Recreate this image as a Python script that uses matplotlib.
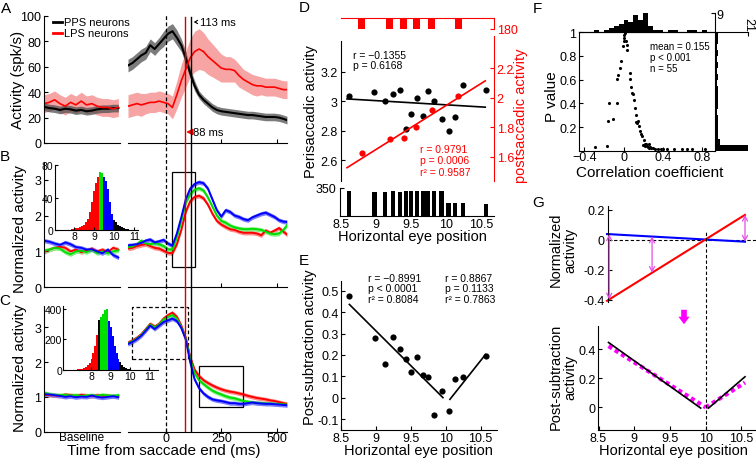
import matplotlib
matplotlib.use('Agg')
import matplotlib.pyplot as plt
import numpy as np
from matplotlib.patches import Rectangle, FancyArrowPatch

plt.rcParams['font.family'] = ['Liberation Sans', 'DejaVu Sans']
plt.rcParams['xtick.direction'] = 'in'
plt.rcParams['ytick.direction'] = 'in'
plt.rcParams['axes.linewidth'] = 0.8
plt.rcParams['xtick.major.size'] = 3
plt.rcParams['ytick.major.size'] = 3
plt.rcParams['xtick.major.width'] = 0.8
plt.rcParams['ytick.major.width'] = 0.8
plt.rcParams['xtick.major.pad'] = 1.5
plt.rcParams['ytick.major.pad'] = 2
plt.rcParams['xtick.labelsize'] = 9
plt.rcParams['ytick.labelsize'] = 9

# ---------------- DATA ----------------
t_main = [-170, -150, -130, -110, -90, -70, -50, -30, -10, 10, 30, 50, 70, 90, 110, 130,
          150, 170, 190, 210, 230, 250, 270, 290, 310, 330, 350, 370, 390, 410, 430, 450,
          470, 490, 510, 530, 546]
# Panel A (spk/s)
a_pps = [61, 63, 66, 69, 71, 77, 74, 78, 82, 86, 88, 83, 77, 67, 55, 45, 38, 34, 31, 28, 26,
         25, 24.5, 24, 23.5, 23, 22.5, 22, 22, 21.5, 21, 20.5, 20.5, 20.5, 20, 19, 18]
a_pps_err = [5, 5, 5, 5, 5, 5, 5, 5, 6, 6, 6, 6, 5, 5, 4, 4, 3, 3, 3, 3, 3, 3, 3, 3, 3, 3, 3,
             3, 3, 3, 3, 3, 3, 3, 3, 3, 3]
a_lps = [29, 30, 31, 30, 31, 32, 32, 33, 32, 31, 28, 38, 49, 58, 67, 72, 74, 72, 68, 65, 62,
         59, 58, 58, 57, 53, 50, 48, 46, 45, 45, 44, 44, 44, 43, 42, 42]
a_lps_err = [9, 9, 9, 9, 8, 8, 8, 8, 8, 8, 9, 11, 13, 14, 15, 16, 16, 15, 14, 13, 12, 11, 10,
             10, 9, 9, 8, 8, 8, 8, 7, 7, 7, 7, 7, 7, 7]
base_idx = [0, 1, 2, 3, 4, 5, 6, 7, 8, 9, 10, 11, 12, 13, 14]
a_base_pps = [28.5, 27.5, 27, 26, 27, 26.5, 25.5, 26, 25, 25.5, 26.5, 27, 27, 27.5, 27.5]
a_base_lps = [31, 32, 34, 31, 29, 32, 30, 33, 30, 31, 29, 28, 28, 27, 28]

# Panel B (normalized)
b_blue = [1.17, 1.18, 1.2, 1.24, 1.3, 1.33, 1.25, 1.28, 1.32, 1.22, 1.16, 1.5, 1.95, 2.45,
          2.75, 2.88, 2.93, 2.9, 2.75, 2.45, 2.15, 1.97, 2.15, 2.1, 2.0, 1.96, 1.9, 1.87,
          1.95, 2.0, 2.05, 2.08, 2.02, 1.96, 1.87, 1.83, 1.82]
b_green = [1.12, 1.14, 1.2, 1.3, 1.22, 1.2, 1.23, 1.2, 1.15, 1.06, 1.05, 1.4, 1.85, 2.35,
           2.6, 2.72, 2.76, 2.7, 2.5, 2.25, 2.0, 1.85, 1.8, 1.72, 1.67, 1.64, 1.62, 1.62,
           1.63, 1.62, 1.6, 1.55, 1.5, 1.48, 1.5, 1.6, 1.73]
b_red = [1.08, 1.1, 1.15, 1.18, 1.2, 1.15, 1.1, 1.08, 1.02, 0.96, 0.95, 1.2, 1.6, 2.1, 2.4,
         2.52, 2.55, 2.48, 2.3, 2.05, 1.85, 1.75, 1.68, 1.62, 1.6, 1.55, 1.52, 1.52, 1.52,
         1.5, 1.45, 1.58, 1.52, 1.58, 1.65, 1.55, 1.47]
b_base_blue = [1.3, 1.27, 1.22, 1.18, 1.25, 1.2, 1.12, 1.1, 1.05, 1.06, 1.0, 0.95, 1.05, 0.9, 0.83]
b_base_green = [1.02, 1.05, 1.1, 1.08, 0.98, 0.92, 1.0, 1.02, 0.98, 1.05, 0.95, 1.0, 0.95, 1.0, 1.03]
b_base_red = [0.98, 1.05, 1.1, 1.13, 1.1, 1.0, 1.05, 0.98, 1.02, 1.08, 1.0, 1.05, 0.98, 1.1, 1.05]
b_hist_red_x = [7.9, 8.0, 8.1, 8.2, 8.3, 8.4, 8.5, 8.6, 8.7, 8.8, 8.9, 9.0, 9.1, 9.2]
b_hist_red = [1, 1, 2, 2, 3, 4, 6, 9, 13, 22, 35, 48, 58, 65]
b_hist_green_x = [9.3, 9.4]
b_hist_green = [72, 70]
b_hist_blue_x = [9.5, 9.6, 9.7, 9.8, 9.9]
b_hist_blue = [66, 60, 50, 35, 20]
b_hist_black_x = [10.0, 10.1, 10.2, 10.3, 10.4, 10.5, 10.6, 10.7]
b_hist_black = [12, 9, 6, 4, 3, 2, 1, 1]

# Panel C (normalized)
c_red = [2.56, 2.62, 2.7, 2.8, 2.95, 3.1, 3.02, 3.1, 3.25, 3.35, 3.42, 3.3, 3.05, 2.7, 2.15,
         1.78, 1.6, 1.48, 1.4, 1.33, 1.27, 1.22, 1.18, 1.15, 1.13, 1.1, 1.07, 1.03, 1.0, 0.97,
         0.95, 0.93, 0.9, 0.88, 0.85, 0.82, 0.8]
c_green = [2.54, 2.6, 2.68, 2.78, 2.93, 3.08, 3.0, 3.08, 3.22, 3.3, 3.35, 3.25, 3.0, 2.68,
           2.1, 1.68, 1.48, 1.37, 1.27, 1.18, 1.12, 1.07, 1.02, 0.98, 0.96, 0.92, 0.88, 0.86,
           0.84, 0.83, 0.82, 0.81, 0.81, 0.8, 0.8, 0.79, 0.78]
c_blue = [2.52, 2.58, 2.66, 2.76, 2.9, 3.05, 2.95, 3.05, 3.15, 3.2, 3.25, 3.18, 2.98, 2.65,
          2.0, 1.5, 1.25, 1.1, 1.0, 0.93, 0.9, 0.88, 0.85, 0.82, 0.82, 0.8, 0.8, 0.82, 0.84,
          0.82, 0.81, 0.8, 0.8, 0.79, 0.78, 0.77, 0.76]
c_base_red = [1.06, 1.05, 1.04, 1.03, 1.07, 1.05, 1.03, 1.06, 1.04, 1.02, 1.05, 1.03, 1.04, 1.02, 1.03]
c_base_green = [1.12, 1.08, 1.06, 1.05, 1.06, 1.04, 1.05, 1.03, 1.04, 1.05, 1.03, 1.06, 1.04, 1.03, 1.05]
c_base_blue = [1.08, 1.07, 1.05, 1.03, 1.0, 1.02, 0.99, 1.01, 1.0, 1.04, 1.0, 0.98, 1.0, 1.02, 0.99]
c_hist_red_x = [7.3, 7.4, 7.5, 7.6, 7.7, 7.8, 7.9, 8.0, 8.1, 8.2, 8.3]
c_hist_red = [4, 6, 9, 13, 20, 30, 48, 75, 110, 160, 230]
c_hist_black1_x = [8.4]
c_hist_black1 = [330]
c_hist_green_x = [8.5, 8.6, 8.7, 8.8]
c_hist_green = [345, 365, 390, 398]
c_hist_blue_x = [8.9, 9.0, 9.1, 9.2, 9.3, 9.4]
c_hist_blue = [320, 280, 225, 160, 110, 75]
c_hist_black_x = [9.5, 9.6, 9.7, 9.8, 9.9, 10.0, 10.1, 10.2]
c_hist_black = [50, 35, 22, 14, 8, 5, 3, 2]

# Panel D
d_eye = [8.62, 8.98, 9.13, 9.24, 9.34, 9.43, 9.50, 9.59, 9.67, 9.74, 9.83, 9.94, 10.04,
         10.13, 10.25, 10.57]
d_peri = [3.037, 3.064, 3.003, 3.049, 3.076, 2.811, 2.913, 3.022, 2.898, 3.071, 3.003,
          2.879, 2.80, 2.895, 3.112, 3.076]
d_trials = [310, 305, 305, 308, 305, 310, 310, 312, 310, 312, 312, 308, 160, 160, 158, 150]
d_eye_post = [8.80, 9.20, 9.40, 9.58, 9.80, 10.18]
d_post = [1.622, 1.717, 1.729, 1.803, 1.914, 2.011]
d_trials_post = [178, 180, 180, 180, 180, 180]
d_fit_x = [8.59, 10.565]
d_fit_peri = [3.015, 2.959]
d_fit_post = [1.525, 2.113]

# Panel E
e_post_sub = [0.475, 0.277, 0.156, 0.285, 0.226, 0.179, 0.121, 0.191, 0.107, 0.096, -0.081,
              0.031, -0.063, 0.086, 0.096, 0.193]
e_fit_left_x = [8.62, 9.96]
e_fit_left = [0.436, 0.0]
e_fit_right_x = [10.06, 10.57]
e_fit_right = [-0.008, 0.202]

# Panel F
f_r = [-0.29, -0.165, -0.16, -0.15, -0.105, -0.07, -0.065, -0.057, -0.032, -0.022, -0.006,
       0.0, 0.015, 0.025, 0.032, 0.038, 0.063, 0.07, 0.073, 0.089, 0.095, 0.111, 0.121,
       0.127, 0.136, 0.149, 0.159, 0.165, 0.175, 0.184, 0.206, 0.222, 0.238, 0.254, 0.27,
       0.295, 0.317, 0.349, 0.381, 0.444, 0.508, 0.597, 0.65, 0.698, 0.825, 0.2, 0.215,
       0.23, 0.245, 0.26, 0.28, 0.13, 0.005, 0.0, 0.4]
f_p = [0.035, 0.043, 0.255, 0.405, 0.268, 0.405, 0.603, 0.64, 0.702, 0.758, 0.886, 0.95,
       0.99, 0.93, 0.89, 0.852, 0.66, 0.608, 0.54, 0.49, 0.475, 0.432, 0.362, 0.305, 0.234,
       0.248, 0.211, 0.169, 0.14, 0.12, 0.092, 0.055, 0.041, 0.058, 0.035, 0.021, 0.015,
       0.013, 0.015, 0.013, 0.013, 0.013, 0.015, 0.013, 0.013, 0.048, 0.04, 0.06, 0.03,
       0.025, 0.02, 0.24, 0.93, 0.975, 0.012]
f_rhist_edges = [-0.30, -0.25, -0.20, -0.15, -0.10, -0.05, 0.00, 0.05, 0.10, 0.15, 0.20,
                 0.25, 0.30, 0.35, 0.40, 0.45, 0.50, 0.55, 0.60, 0.65, 0.70, 0.75, 0.80]
f_rhist = [1, 0, 1, 2, 3, 4, 6, 5, 8, 6, 9, 3, 1, 1, 0, 1, 1, 0, 0, 1, 1, 0, 1]
f_phist_edges = [0.00, 0.05, 0.10, 0.15, 0.20, 0.25, 0.30, 0.35, 0.40, 0.45, 0.50, 0.55,
                 0.60, 0.65, 0.70, 0.75, 0.80, 0.85, 0.90, 0.95]
f_phist = [21, 3, 2, 2, 2, 2, 1, 2, 2, 2, 2, 1, 2, 1, 2, 1, 2, 1, 2, 2]

# Panel G
g_x = [8.62, 10.55]
g_low = [0.038, -0.013]
g_high = [-0.407, 0.166]
g_arrow_x = [8.65, 9.25, 10.55]
g_arrow_from = [0.036, 0.021, 0.166]
g_arrow_to = [-0.398, -0.220, -0.013]
g_fit_left_x = [8.64, 9.93]
g_fit_left = [0.445, -0.005]
g_fit_right_x = [10.04, 10.55]
g_fit_right = [-0.005, 0.21]
g_pred_left_x = [8.64, 10.0]
g_pred_left = [0.42, 0.0]
g_pred_right_x = [10.0, 10.55]
g_pred_right = [0.0, 0.17]

# ---------------- FIGURE ----------------
W, H = 756, 460
fig = plt.figure(figsize=(W / 100, H / 100), dpi=100)


def ax_px(x0, y0, x1, y1, z=1):
    ax = fig.add_axes([x0 / W, 1 - y1 / H, (x1 - x0) / W, (y1 - y0) / H])
    ax.patch.set_alpha(0)
    ax.set_zorder(z)
    return ax


def ftext(x, y, s, **kw):
    kw.setdefault('ha', 'center')
    kw.setdefault('va', 'center')
    fig.text(x / W, 1 - y / H, s, **kw)


def keep_spines(ax, keep):
    for k, s in ax.spines.items():
        s.set_visible(k in keep)


def band(ax, x, y, e, fill, alpha=1.0):
    y = np.asarray(y, float)
    e = np.asarray(e, float)
    ax.fill_between(x, y - e, y + e, color=fill, lw=0, alpha=alpha)


BL, BLF = '#0000ff', '#7b7bff'
GR, GRF = '#00dd00', '#80f080'
RD, RDF = '#ff0000', '#ff8c8c'

# ---- Panel A ----
axAb = ax_px(44, 17, 120, 144)
axAb.set_xlim(0, 14.3)
axAb.set_ylim(0, 100)
band(axAb, base_idx, a_base_lps, 7, '#f6a4a4')
band(axAb, base_idx, a_base_pps, 3, '#505050', alpha=0.75)
axAb.plot(base_idx, a_base_pps, color='k', lw=1.5)
axAb.plot(base_idx, a_base_lps, color=RD, lw=1.2)
axAb.set_xticks([])
axAb.set_yticks([0, 20, 40, 60, 80, 100])
keep_spines(axAb, ['left', 'bottom'])

axA = ax_px(128, 17, 287, 144)
axA.set_xlim(-170, 546)
axA.set_ylim(0, 100)
band(axA, t_main, a_lps, a_lps_err, '#f6a4a4')
band(axA, t_main, a_pps, a_pps_err, '#505050', alpha=0.75)
axA.plot(t_main, a_pps, color='k', lw=1.5)
axA.plot(t_main, a_lps, color=RD, lw=1.2)
axA.set_xticks([0, 250, 500])
axA.set_xticklabels([])
axA.set_yticks([])
keep_spines(axA, ['bottom'])

ftext(18, 80, 'Activity (spk/s)', rotation=90, fontsize=11)
fig.add_artist(plt.Line2D([53 / W, 62 / W], [1 - 22.7 / H] * 2, color='k', lw=2))
fig.add_artist(plt.Line2D([53 / W, 62 / W], [1 - 34.3 / H] * 2, color=RD, lw=2))
ftext(64, 22.7, 'PPS neurons', ha='left', fontsize=8)
ftext(64, 34.3, 'LPS neurons', ha='left', fontsize=8)


# ---- Panel B ----
def main_curves(ax, r, g, b):
    band(ax, t_main, r, 0.06, RDF)
    band(ax, t_main, g, 0.06, GRF)
    band(ax, t_main, b, 0.06, BLF)
    ax.plot(t_main, r, color=RD, lw=1.4)
    ax.plot(t_main, g, color=GR, lw=1.4)
    ax.plot(t_main, b, color=BL, lw=1.4)


def base_curves(ax, r, g, b):
    band(ax, base_idx, r, 0.06, RDF)
    band(ax, base_idx, g, 0.06, GRF)
    band(ax, base_idx, b, 0.06, BLF)
    ax.plot(base_idx, r, color=RD, lw=1.3)
    ax.plot(base_idx, g, color=GR, lw=1.3)
    ax.plot(base_idx, b, color=BL, lw=1.3)


axBb = ax_px(44, 162.7, 120, 288.3)
axBb.set_xlim(0, 14.3)
axBb.set_ylim(0, 3.5)
base_curves(axBb, b_base_red, b_base_green, b_base_blue)
axBb.set_xticks([])
axBb.set_yticks([0, 1, 2, 3])
keep_spines(axBb, ['left', 'bottom'])

axB = ax_px(128, 162.7, 287, 288.3)
axB.set_xlim(-170, 546)
axB.set_ylim(0, 3.5)
main_curves(axB, b_red, b_green, b_blue)
axB.add_patch(Rectangle((30, 0.56), 100, 2.64, fill=False, ec='k', lw=0.9))
axB.set_xticks([0, 250, 500])
axB.set_xticklabels([])
axB.set_yticks([])
keep_spines(axB, ['bottom'])
ftext(20, 229, 'Normalized activity', rotation=90, fontsize=11)

axBi = ax_px(55, 165.7, 138.3, 230.7, z=3)
axBi.bar(b_hist_red_x, b_hist_red, width=0.1, color=RD, lw=0)
axBi.bar(b_hist_green_x, b_hist_green, width=0.1, color='#00e000', lw=0)
axBi.bar(b_hist_blue_x, b_hist_blue, width=0.1, color=BL, lw=0)
axBi.bar(b_hist_black_x, b_hist_black, width=0.1, color='k', lw=0)
axBi.set_xlim(7.05, 11.2)
axBi.set_ylim(0, 80.8)
axBi.set_xticks([8, 9, 10, 11])
axBi.set_yticks([0, 40, 80])
axBi.tick_params(labelsize=7.5, length=2, pad=1)
keep_spines(axBi, ['left', 'bottom'])

# ---- Panel C ----
axCb = ax_px(44, 306.7, 120, 432.7)
axCb.set_xlim(0, 14.3)
axCb.set_ylim(0, 3.62)
base_curves(axCb, c_base_red, c_base_green, c_base_blue)
axCb.set_xticks([])
axCb.set_yticks([0, 1, 2, 3])
keep_spines(axCb, ['left', 'bottom'])
ftext(82, 438.5, 'Baseline', fontsize=8.5)

axC = ax_px(128, 306.7, 287, 432.7)
axC.set_xlim(-170, 546)
axC.set_ylim(0, 3.62)
main_curves(axC, c_red, c_green, c_blue)
axC.add_patch(Rectangle((-150, 2.1), 250, 1.47, fill=False, ec='k', lw=0.9, ls=(0, (3, 2))))
axC.add_patch(Rectangle((150, 0.7), 200, 1.2, fill=False, ec='k', lw=0.9))
axC.set_xticks([0, 250, 500])
axC.tick_params(axis='x', pad=0.5)
axC.set_yticks([])
keep_spines(axC, ['bottom'])
ftext(20, 368, 'Normalized activity', rotation=90, fontsize=11)
ftext(164, 451, 'Time from saccade end (ms)', fontsize=11)

axCi = ax_px(63.3, 306.7, 158.3, 371, z=3)
axCi.bar(c_hist_red_x, c_hist_red, width=0.1, color=RD, lw=0)
axCi.bar(c_hist_black1_x, c_hist_black1, width=0.1, color='k', lw=0)
axCi.bar(c_hist_green_x, c_hist_green, width=0.1, color='#00e000', lw=0)
axCi.bar(c_hist_blue_x, c_hist_blue, width=0.1, color=BL, lw=0)
axCi.bar(c_hist_black_x, c_hist_black, width=0.1, color='k', lw=0)
axCi.set_xlim(6.54, 11.46)
axCi.set_ylim(0, 421)
axCi.set_xticks([8, 9, 10, 11])
axCi.set_yticks([0, 200, 400])
axCi.tick_params(labelsize=7.5, length=2, pad=1)
keep_spines(axCi, ['left', 'bottom'])

# vertical reference lines through A-C
axO = ax_px(128, 16, 287, 433, z=4)
axO.set_xlim(-170, 546)
axO.set_ylim(0, 1)
axO.axis('off')
axO.axvline(0, color='k', lw=0.9, ls=(0, (3, 2)))
axO.axvline(88, color='#d00000', lw=1.0, ymax=0.995)
axO.axvline(113, color='k', lw=1.0, ymax=0.995)

fig.add_artist(FancyArrowPatch((199 / W, 1 - 23 / H), (191 / W, 1 - 23 / H),
                               transform=fig.transFigure,
                               arrowstyle='->,head_length=2,head_width=1.2',
                               color='k', lw=0.8))
ftext(200, 23, '113 ms', ha='left', fontsize=8)
fig.add_artist(FancyArrowPatch((193 / W, 1 - 133 / H), (184 / W, 1 - 133 / H),
                               transform=fig.transFigure,
                               arrowstyle='-|>,head_length=2.5,head_width=1.5',
                               color=RD, lw=1.6))
ftext(193, 133, '88 ms', ha='left', fontsize=8)

# ---- Panel D ----
axD = ax_px(340.7, 41.7, 494, 181.7, z=2)
axD.set_xlim(8.5, 10.69)
axD.set_ylim(2.46, 3.41)
axD.plot(d_fit_x, d_fit_peri, color='k', lw=1.2)
axD.scatter(d_eye, d_peri, s=20, c='k', zorder=3, lw=0)
axD.set_xticks([])
axD.set_yticks([2.6, 2.8, 3.0, 3.2])
axD.set_yticklabels(['2.6', '2.8', '3', '3.2'])
keep_spines(axD, ['left'])

axD2 = axD.twinx()
axD2.set_ylim(1.437, 2.385)
axD2.plot(d_fit_x, d_fit_post, color=RD, lw=1.2)
axD2.scatter(d_eye_post, d_post, s=20, c=RD, zorder=3, lw=0)
axD2.set_yticks([1.6, 1.8, 2.0, 2.2])
axD2.set_yticklabels(['1.6', '1.8', '2', '2.2'])
axD2.tick_params(axis='y', colors=RD)
keep_spines(axD2, ['right'])
axD2.spines['right'].set_color(RD)
axD2.spines['right'].set_bounds(1.437, 2.42)

axDt = ax_px(340.7, 18.5, 494, 30)
axDt.bar(d_eye_post, d_trials_post, width=0.095, color=RD, lw=0)
axDt.set_xlim(8.5, 10.69)
axDt.set_ylim(180, 0)
axDt.set_xticks([])
axDt.yaxis.tick_right()
axDt.set_yticks([180])
axDt.tick_params(axis='y', colors=RD, length=3)
keep_spines(axDt, ['top', 'right'])
axDt.spines['top'].set_color(RD)
axDt.spines['right'].set_color(RD)

axDb = ax_px(339.5, 189, 494, 216.7)
axDb.bar(d_eye, d_trials, width=0.06, color='k', lw=0)
axDb.set_xlim(8.48, 10.69)
axDb.set_ylim(0, 350)
axDb.set_yticks([350])
axDb.set_xticks([8.5, 9, 9.5, 10, 10.5])
axDb.set_xticklabels(['8.5', '9', '9.5', '10', '10.5'])
axDb.tick_params(axis='x', length=0, pad=2)
keep_spines(axDb, ['left', 'bottom'])

ftext(311, 112, 'Perisaccadic activity', rotation=90, fontsize=10.5)
ftext(521, 116, 'postsaccadic activity', rotation=90, fontsize=10.5, color=RD)
ftext(412, 237, 'Horizontal eye position', fontsize=10.5)
ftext(353, 56, 'r = \u22120.1355', ha='left', fontsize=7.5)
ftext(353, 66, 'p = 0.6168', ha='left', fontsize=7.5)
ftext(420, 150, 'r = 0.9791', ha='left', fontsize=7.5, color=RD)
ftext(420, 161.5, 'p = 0.0006', ha='left', fontsize=7.5, color=RD)
ftext(420, 173, 'r\u00b2 = 0.9587', ha='left', fontsize=7.5, color=RD)

# ---- Panel E ----
axE = ax_px(341, 281.7, 496.7, 430.7)
axE.set_xlim(8.5, 10.73)
axE.set_ylim(-0.15, 0.547)
axE.plot(e_fit_left_x, e_fit_left, color='k', lw=1.2)
axE.plot(e_fit_right_x, e_fit_right, color='k', lw=1.2)
axE.scatter(d_eye, e_post_sub, s=20, c='k', zorder=3, lw=0)
axE.set_yticks([-0.1, 0, 0.1, 0.2, 0.3, 0.4, 0.5])
axE.set_yticklabels(['-0.1', '0', '0.1', '0.2', '0.3', '0.4', '0.5'])
axE.tick_params(axis='y', pad=1.5)
axE.set_xticks([8.5, 9, 9.5, 10, 10.5])
axE.set_xticklabels(['8.5', '9', '9.5', '10', '10.5'])
keep_spines(axE, ['left', 'bottom'])
ftext(310, 347, 'Post-subtraction activity', rotation=90, fontsize=10.5)
ftext(418, 451, 'Horizontal eye position', fontsize=10.5)
ftext(368, 279, 'r = \u22120.8991', ha='left', fontsize=7.5)
ftext(368, 289.5, 'p < 0.0001', ha='left', fontsize=7.5)
ftext(368, 300, 'r\u00b2 = 0.8084', ha='left', fontsize=7.5)
ftext(445, 279, 'r = 0.8867', ha='left', fontsize=7.5)
ftext(445, 289.5, 'p = 0.1133', ha='left', fontsize=7.5)
ftext(445, 300, 'r\u00b2 = 0.7863', ha='left', fontsize=7.5)

# ---- Panel F ----
axF = ax_px(579.3, 33.3, 715, 151.7)
axF.set_xlim(-0.45, 0.93)
axF.set_ylim(0, 1)
axF.scatter(f_r, f_p, s=5, c='k', lw=0)
axF.set_xticks([-0.4, 0, 0.4, 0.8])
axF.set_xticklabels(['\u22120.4', '0', '0.4', '0.8'])
axF.tick_params(axis='x', pad=0.5)
axF.set_yticks([0.2, 0.4, 0.6, 0.8, 1.0])
axF.set_yticklabels(['0.2', '0.4', '0.6', '0.8', '1'])
keep_spines(axF, ['left', 'bottom', 'top'])
ftext(552, 97, 'P value', rotation=90, fontsize=11)
ftext(650, 173, 'Correlation coefficient', fontsize=11)
ftext(650, 47, 'mean = 0.155', ha='left', fontsize=7)
ftext(650, 58, 'p < 0.001', ha='left', fontsize=7)
ftext(650, 69, 'n = 55', ha='left', fontsize=7)

axFt = ax_px(579.3, 13.5, 715, 33.3)
axFt.bar(f_rhist_edges, f_rhist, width=0.05, align='edge', color='k', lw=0)
axFt.set_xlim(-0.45, 0.93)
axFt.set_ylim(0, 9.4)
axFt.set_xticks([])
axFt.yaxis.tick_right()
axFt.set_yticks([9])
axFt.tick_params(axis='y', length=3, pad=1)
keep_spines(axFt, ['right', 'bottom'])

axFr = ax_px(715, 33.3, 748, 151.7)
axFr.barh(f_phist_edges, f_phist, height=0.05, align='edge', color='k', lw=0)
axFr.set_xlim(0, 21)
axFr.set_ylim(0, 1)
axFr.set_yticks([])
axFr.xaxis.tick_top()
axFr.set_xticks([21])
axFr.tick_params(axis='x', length=3, pad=1)
for lab in axFr.get_xticklabels():
    lab.set_rotation(-90)
keep_spines(axFr, ['left', 'top'])

# ---- Panel G ----
MAG = '#ff00ff'
axGt = ax_px(607.7, 206.7, 756, 303)
axGt.set_xlim(8.629, 10.704)
axGt.set_ylim(-0.415, 0.227)
axGt.axhline(0, color='k', lw=0.8, ls=(0, (3, 2)))
axGt.plot(g_x, g_low, color=BL, lw=1.5, clip_on=False)
axGt.plot(g_x, g_high, color=RD, lw=1.5, clip_on=False)
for xa, y0, y1 in zip(g_arrow_x, g_arrow_from, g_arrow_to):
    axGt.annotate('', xy=(xa, y1), xytext=(xa, y0),
                  arrowprops=dict(arrowstyle='<->,head_length=0.35,head_width=0.18',
                                  color='#e64ce6', lw=0.9, shrinkA=0, shrinkB=0))
axGt.set_xticks([])
axGt.set_yticks([-0.4, -0.2, 0, 0.2])
axGt.set_yticklabels(['-0.4', '-0.2', '0', '0.2'])
keep_spines(axGt, ['left'])
ftext(563, 250, 'Normalized\nactivity', rotation=90, fontsize=10.5, linespacing=1.0)

axGb = ax_px(598.3, 326.7, 756, 430.7)
axGb.set_xlim(8.497, 10.704)
axGb.set_ylim(-0.153, 0.56)
axGb.plot(g_pred_left_x, g_pred_left, color=MAG, lw=3, ls=(0, (1, 0.8)))
axGb.plot(g_pred_right_x, g_pred_right, color=MAG, lw=3, ls=(0, (1, 0.8)))
axGb.plot(g_fit_left_x, g_fit_left, color='k', lw=1.2)
axGb.plot(g_fit_right_x, g_fit_right, color='k', lw=1.2)
axGb.set_xticks([8.5, 9, 9.5, 10, 10.5])
axGb.set_xticklabels(['8.5', '9', '9.5', '10', '10.5'])
axGb.set_yticks([0, 0.2, 0.4])
axGb.set_yticklabels(['0', '0.2', '0.4'])
keep_spines(axGb, ['left', 'bottom'])
ftext(563, 377, 'Post-subtraction\nactivity', rotation=90, fontsize=10.5, linespacing=1.0)
ftext(673, 451, 'Horizontal eye position', fontsize=10.5)

axGo = ax_px(598.3, 233, 756, 430.7, z=4)
axGo.set_xlim(8.497, 10.704)
axGo.set_ylim(0, 1)
axGo.axis('off')
axGo.axvline(10, color='k', lw=0.8, ls=(0, (3, 2)))

fig.add_artist(FancyArrowPatch((684 / W, 1 - 308 / H), (684 / W, 1 - 328 / H),
                               transform=fig.transFigure,
                               arrowstyle='simple,head_length=0.6,head_width=0.9,tail_width=0.45',
                               mutation_scale=9, color=MAG, lw=0))

# panel letters
for s, x, y in [('A', 6, 9), ('B', 5, 157), ('C', 5, 301), ('D', 304, 8), ('E', 304, 261),
                ('F', 537, 9), ('G', 538, 203)]:
    ftext(x, y, s, fontsize=11)

fig.savefig('out.png', dpi=100)
